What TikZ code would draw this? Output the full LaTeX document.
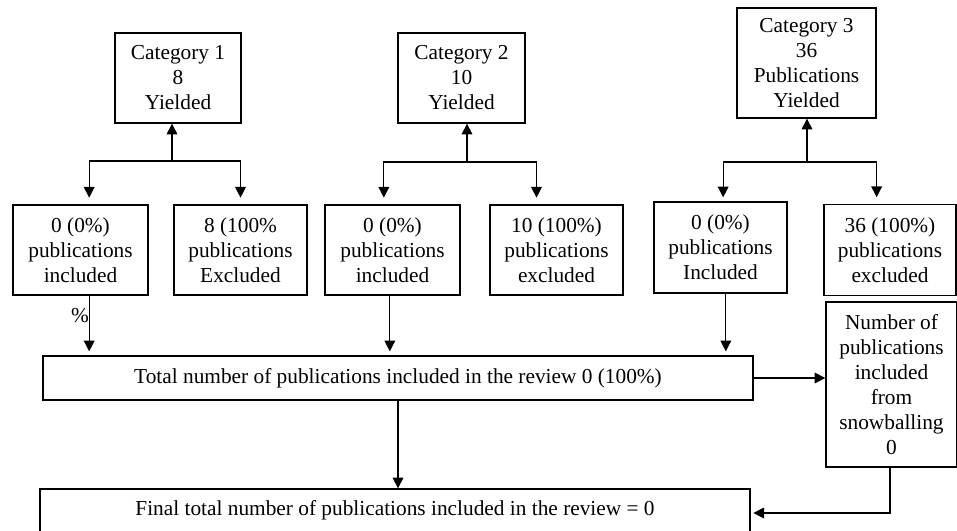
\documentclass[tikz,border=0pt]{standalone}
\usepackage{fontspec}
\setmainfont{Liberation Serif}
\usetikzlibrary{arrows.meta}

\begin{document}
\begin{tikzpicture}[x=0.75pt, y=-0.75pt,
          font=\fontsize{16}{18.75}\selectfont,
          box/.style 2 args = {draw, line width=1pt, align=center, inner sep=0pt,
                               minimum width=#1*0.75pt, minimum height=#2*0.75pt},
          arr/.style = {line width=0.9pt, -{Triangle[length=8pt, width=8pt]}}]
        \useasboundingbox (0,0) rectangle (957,531);
        % categories
        \node[box={126}{90}]  (cat1) at (178,78)    {Category 1\\8\\Yielded};
        \node[box={127}{90}]  (cat2) at (461.5,78)  {Category 2\\10\\Yielded};
        \node[box={139}{110}] (cat3) at (806.5,63)  {Category 3\\36\\Publications\\Yielded};
        % screening
        \node[box={135}{90}] (inc1) at (80.5,250)   {0 (0\%)\\publications\\included};
        \node[box={133}{90}] (exc1) at (240.5,250)  {8 (100\%\\publications\\Excluded};
        \node[box={135}{90}] (inc2) at (392.5,250)  {0 (0\%)\\publications\\included};
        \node[box={133}{90}] (exc2) at (556.5,250)  {10 (100\%)\\publications\\excluded};
        \node[box={133}{91}] (inc3) at (720.5,247.5) {0 (0\%)\\publications\\Included};
        \node[box={132}{91}] (exc3) at (890,250)    {36 (100\%)\\publications\\excluded};
        % totals
        \node[box={710}{44}]  (total) at (398,378)  {Total number of publications included in the review 0 (100\%)};
        \node[box={131}{165}] (snow)  at (891.5,384.5) {Number of\\publications\\included\\from\\snowballing\\0};
        \node[box={710}{56}, text depth=14pt] (final) at (395,517) {Final total number of publications included in the review = 0};
        \node (pct) at (80,316) {\%};
        \coordinate (s1) at (172,161);
        \coordinate (s2) at (467,162);
        \coordinate (s3) at (807,162);
        \coordinate (b1) at (890,513);
        \foreach \s/\c in {s1/cat1, s2/cat2, s3/cat3}
                 {
                   \draw[arr] (\s) -- (\s |- \c.south);
                 }
        \draw[arr, shorten >=5pt] (s1) -| ([xshift=6.5pt]inc1.north);
        \draw[arr, shorten >=5pt] (s1) -| (exc1.north);
        \draw[arr, shorten >=5pt] (s2) -| ([xshift=-6.5pt]inc2.north);
        \draw[arr, shorten >=5pt] (s2) -| ([xshift=-15pt]exc2.north);
        \draw[arr, shorten >=3pt] (s3) -| ([xshift=2pt]inc3.north);
        \draw[arr, shorten >=5pt] (s3) -| ([xshift=-10pt]exc3.north);
        % into the total
        \draw[arr, shorten >=3pt] ([xshift=6.5pt]inc1.south) -- ([xshift=6.5pt]inc1.south |- total.north);
        \draw[arr, shorten >=3pt] ([xshift=-2pt]inc2.south) -- ([xshift=-2pt]inc2.south |- total.north);
        \draw[arr, shorten >=3pt] ([xshift=4pt]inc3.south) -- ([xshift=4pt]inc3.south |- total.north);
        \draw[arr] (total.east) -- (snow.west |- total.east);
        \draw[arr] (total.south) -- (total.south |- final.north);
        \draw[arr, shorten >=2pt] (snow.south -| b1) -- (b1) -- (final.east |- b1);
\end{tikzpicture}
\end{document}
